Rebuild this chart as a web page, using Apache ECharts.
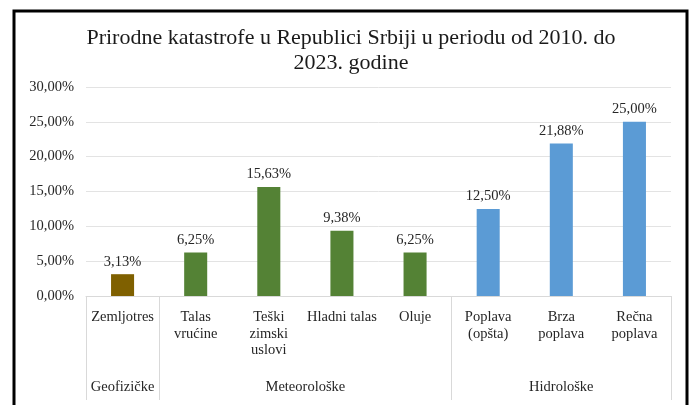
<!DOCTYPE html>
<html>
<head>
<meta charset="utf-8">
<script src="https://cdn.jsdelivr.net/npm/echarts@6/dist/echarts.min.js"></script>
<style>html,body{margin:0;padding:0;background:#fff}#c{width:691px;height:405px}</style>
</head>
<body>
<div id="c"></div>
<script>
var categories = ['Zemljotres', 'Talas\nvrućine', 'Teški\nzimski\nuslovi', 'Hladni talas', 'Oluje', 'Poplava\n(opšta)', 'Brza\npoplava', 'Rečna\npoplava'];
var values = [3.13, 6.25, 15.63, 9.38, 6.25, 12.50, 21.88, 25.00];
var categoryGroup = [0, 1, 1, 1, 1, 2, 2, 2];
var groupNames = ['Geofizičke', 'Meteorološke', 'Hidrološke'];
var groupLabelPositions = [0.5, 3, 6.5];
var groupBoundaries = [0, 1, 5, 8];
var yTicks = [0, 5, 10, 15, 20, 25, 30];

var groupColors = ['#7F6000', '#548235', '#5B9BD5'];
var font = 'Liberation Serif';
var textColor = '#262626';

function pct(v) { return v.toFixed(2).replace('.', ',') + '%'; }

var chart = echarts.init(document.getElementById('c'));
chart.setOption({
  animation: false,
  backgroundColor: '#ffffff',
  title: {
    text: 'Prirodne katastrofe u Republici Srbiji u periodu od 2010. do\n2023. godine',
    left: 346,
    textAlign: 'center',
    top: 21,
    textStyle: { fontFamily: font, fontSize: 22, fontWeight: 'normal', color: '#1a1a1a', lineHeight: 25 }
  },
  grid: { left: 86, right: 20, top: 87, bottom: 109, containLabel: false },
  xAxis: [
    {
      type: 'category',
      data: categories,
      position: 'bottom',
      axisLine: { show: true, lineStyle: { color: '#D9D9D9', width: 1 } },
      axisTick: { show: false },
      axisLabel: {
        interval: 0, margin: 13, fontFamily: font, fontSize: 14.5, color: textColor, lineHeight: 16.5, align: 'center'
      },
      splitLine: { show: false }
    },
    {
      type: 'value',
      min: 0, max: 8,
      position: 'bottom',
      axisLine: { show: false },
      axisTick: { show: true, customValues: groupBoundaries, length: 104, inside: false, lineStyle: { color: '#D9D9D9', width: 1 } },
      axisLabel: {
        customValues: groupLabelPositions,
        margin: 84,
        fontFamily: font, fontSize: 14.5, color: textColor,
        formatter: function (v) {
          var i = groupLabelPositions.indexOf(v);
          return i >= 0 ? groupNames[i] : '';
        }
      },
      splitLine: { show: false }
    }
  ],
  yAxis: {
    type: 'value',
    min: yTicks[0], max: yTicks[yTicks.length - 1], interval: 5,
    axisLine: { show: false },
    axisTick: { show: false },
    axisLabel: { margin: 12, fontFamily: font, fontSize: 14.5, color: textColor, formatter: pct },
    splitLine: { lineStyle: { color: '#E3E3E3', width: 1 } }
  },
  series: [{
    type: 'bar',
    xAxisIndex: 0,
    data: values.map(function (v, i) {
      return { value: v, itemStyle: { color: groupColors[categoryGroup[i]] } };
    }),
    barWidth: '31.5%',
    label: {
      show: true, position: 'top', distance: 5,
      fontFamily: font, fontSize: 14.5, color: textColor,
      formatter: function (p) { return pct(p.value); }
    }
  }],
  graphic: [{
    type: 'rect',
    shape: { x: 14, y: 11, width: 673, height: 420 },
    style: { fill: 'none', stroke: '#000', lineWidth: 3 },
    silent: true
  }]
});
</script>
</body>
</html>
